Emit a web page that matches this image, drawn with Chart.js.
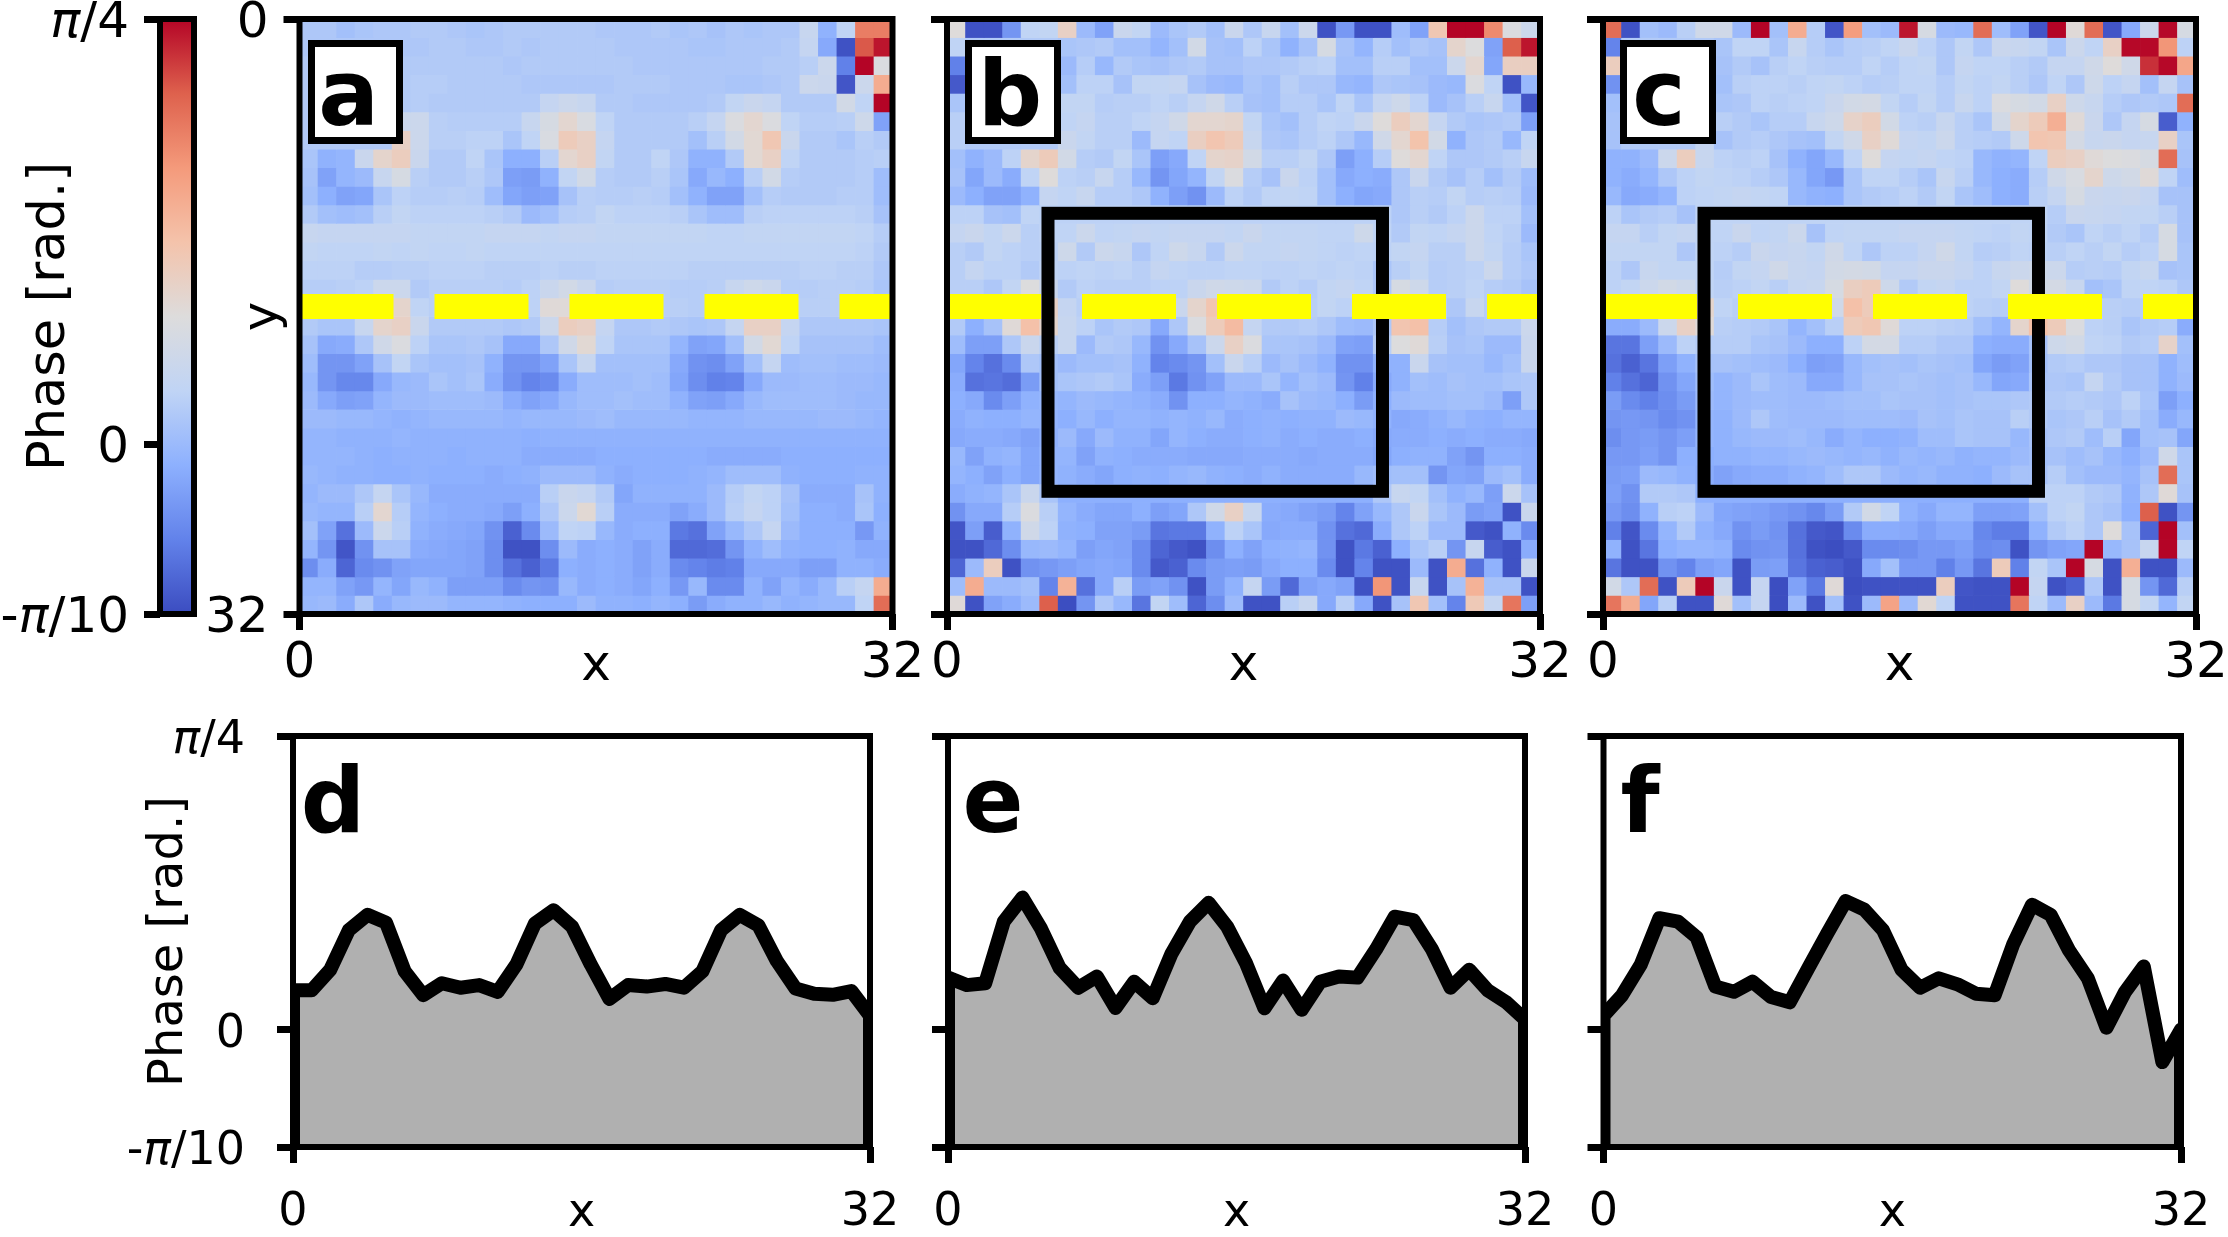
<!DOCTYPE html>
<html><head><meta charset="utf-8">
<style>html,body{margin:0;padding:0;background:#fff;width:2228px;height:1237px;overflow:hidden}
#stage{position:relative;width:2228px;height:1237px}canvas{position:absolute;left:0;top:0}</style>
<script src="https://cdn.jsdelivr.net/npm/chart.js@4/dist/chart.umd.js"></script>
</head><body><div id="stage"></div>
<script>
// Phase maps, hundredths of a radian, row by row
const heatA=[
[5,5,2,4,5,5,6,6,5,4,5,6,6,6,6,6,5,5,5,6,4,5,3,5,4,5,5,13,-3,10,58,58],
[5,5,5,5,5,5,5,6,6,5,5,6,5,6,6,6,6,5,5,5,5,4,4,5,5,5,6,12,-6,-30,66,76],
[6,6,6,6,6,6,6,6,6,6,6,5,6,6,6,6,6,6,5,5,5,5,5,5,5,6,6,8,15,-18,79,22],
[6,6,6,6,6,6,7,7,6,6,6,6,5,5,5,5,5,6,6,6,5,5,5,4,4,5,6,15,14,-29,15,45],
[6,6,6,6,6,6,7,6,6,6,6,6,6,12,15,13,6,6,5,5,5,5,6,11,14,12,6,6,6,18,10,79],
[6,6,6,6,6,15,15,8,7,7,7,7,13,20,27,21,10,6,6,6,6,8,12,22,27,22,10,7,7,8,16,-8],
[6,6,6,6,6,30,15,8,8,9,9,4,10,21,33,30,12,6,6,6,6,2,8,18,26,35,14,6,6,4,8,6],
[4,-3,-2,14,28,32,14,6,6,10,4,-4,-4,8,27,30,11,6,6,10,5,-3,-3,6,26,30,10,6,6,6,7,8],
[3,-8,-2,0,13,20,8,6,6,8,5,-9,-10,-3,11,18,7,6,6,8,4,-6,-1,-4,8,18,7,6,6,6,7,1],
[2,-4,-8,-7,4,9,7,7,8,7,1,-7,-9,-8,3,8,7,7,8,7,2,-3,-8,-8,2,7,6,6,6,7,7,1],
[6,2,1,2,8,11,9,9,9,9,8,6,0,2,7,8,11,9,9,9,8,4,1,1,8,9,9,9,9,9,8,3],
[13,12,12,12,12,12,11,11,11,11,12,12,12,11,12,12,11,11,11,11,11,11,10,10,11,11,11,11,11,11,10,7],
[11,10,10,10,11,10,11,10,10,11,10,10,10,10,10,10,10,10,10,10,10,10,10,10,10,10,10,10,10,10,9,6],
[9,9,9,7,7,8,8,9,9,9,8,8,8,9,8,8,9,9,9,9,9,8,8,8,8,8,8,9,9,8,8,5],
[7,7,8,9,15,15,6,8,8,8,8,7,9,14,18,14,7,8,8,8,7,7,8,13,16,14,7,7,8,8,7,4],
[7,7,7,10,20,28,10,8,8,8,8,8,9,25,25,16,9,8,8,8,8,7,7,18,22,22,9,8,8,8,7,4],
[6,4,4,13,28,30,14,6,6,6,6,5,6,15,32,30,12,5,5,6,5,4,5,12,30,30,12,5,5,5,5,4],
[3,-6,-5,5,17,22,9,4,4,5,3,-6,-6,5,17,26,10,4,4,4,-2,-8,-7,2,18,26,10,3,3,3,3,1],
[1,-12,-12,-8,3,11,4,2,2,3,-3,-12,-12,-8,4,13,2,2,2,2,-6,-13,-14,-8,2,12,1,2,2,1,1,0],
[-1,-12,-16,-16,-6,-1,0,4,2,4,-5,-13,-17,-15,-5,1,1,1,2,1,-7,-14,-18,-17,-6,0,0,1,1,0,0,-1],
[0,-6,-9,-8,-2,0,0,1,1,1,0,-5,-8,-6,-1,1,1,2,1,1,-3,-8,-9,-6,-1,1,1,1,1,0,-1,-1],
[0,0,-1,-1,-2,-3,-2,-1,-1,-1,-1,-2,-1,-1,-1,0,1,-1,-1,-1,-1,-2,-2,-2,-1,-1,-1,-1,0,0,-1,-2],
[-2,-2,-3,-3,-3,-2,-3,-3,-3,-3,-3,-3,-4,-3,-3,-3,-3,-3,-3,-3,-3,-3,-3,-3,-3,-3,-3,-3,-3,-3,-3,-3],
[-2,-2,-2,-3,-4,-3,-3,-3,-4,-3,-3,-3,-5,-5,-5,-5,-4,-4,-4,-4,-4,-4,-5,-5,-5,-5,-4,-4,-4,-4,-4,-4],
[-1,-2,-3,-3,-4,-4,-3,-4,-4,-4,-5,-4,-3,0,0,0,-3,-5,-4,-4,-4,-3,-2,1,1,1,-3,-4,-4,-4,-3,-3],
[-2,0,0,5,12,4,-1,-5,-5,-5,-5,-5,-5,8,14,12,6,-7,-3,-3,-3,-3,0,7,11,9,3,-5,-5,-5,3,-3],
[-1,-2,-2,8,27,7,-2,-4,-5,-5,-6,-9,-4,5,15,26,8,-5,-5,-5,-8,-5,0,8,12,9,2,-4,-4,-5,4,-4],
[2,-8,-22,0,15,8,-3,-5,-6,-7,-13,-26,-15,0,10,9,-1,-5,-4,-4,-20,-22,-8,-1,5,12,0,-4,-4,-4,-11,-3],
[-2,-12,-29,-13,3,3,-5,-6,-7,-8,-14,-30,-30,-14,0,-5,-4,-5,-8,-5,-24,-24,-23,-12,-3,1,-3,-4,-4,-3,-6,-6],
[-14,-5,-25,-15,-13,-8,-7,-7,-7,-8,-14,-22,-26,-20,-4,-5,-4,-5,-8,-5,-15,-17,-19,-18,-6,-6,-6,-9,-9,-3,-3,-5],
[-2,-2,-8,-11,-2,-7,-1,-3,-9,-9,-9,-15,-12,-13,-1,-5,-4,-5,-7,-4,-11,-1,-15,-15,-3,-8,-2,-5,-1,8,12,45],
[-1,0,-5,5,-5,-1,0,0,-2,-2,-2,-3,-4,-4,-4,0,-3,-3,-4,-2,-4,-10,-5,-3,-3,-1,-3,-2,-1,-1,10,62]
];
const heatB=[
[24,-30,-30,-12,10,11,30,0,-8,14,11,0,4,6,2,14,5,13,2,15,-30,-11,-30,-30,1,-8,35,79,79,55,22,15],
[10,6,6,6,6,6,4,5,6,2,2,-2,2,18,3,2,9,4,-3,3,20,3,-2,7,2,5,3,28,23,-8,65,76],
[-18,6,6,6,6,6,0,7,-1,6,4,3,5,6,3,3,5,5,6,8,9,2,2,8,8,2,2,15,27,-7,31,31],
[-28,6,6,6,6,6,2,9,9,3,11,11,12,3,0,-1,4,2,8,5,5,-1,-2,5,4,3,0,-1,22,10,-30,-1],
[4,6,6,6,6,6,11,11,7,8,8,10,8,12,17,8,3,2,7,7,4,10,4,12,16,9,0,3,8,13,2,-29],
[8,6,6,6,6,6,10,12,8,8,10,12,17,27,27,28,11,4,2,7,10,9,14,24,32,27,12,6,4,5,6,-9],
[8,6,6,6,6,6,14,11,8,8,0,12,10,31,36,33,13,5,4,7,9,5,-1,17,27,37,18,-3,5,6,-1,10],
[2,-3,0,9,28,33,18,7,6,11,4,-9,-6,10,28,29,18,8,8,11,5,-9,-4,7,24,27,10,5,5,6,8,13],
[3,-7,0,-5,10,24,9,8,13,7,-1,-12,-7,-2,11,22,7,3,14,9,2,-6,-4,-5,5,14,6,3,7,2,6,1],
[0,-4,-8,-8,-3,12,10,13,7,7,5,-3,-9,-13,0,9,6,10,11,10,2,-4,-7,-6,5,8,7,11,7,8,7,0],
[9,9,3,2,10,9,9,9,9,9,9,9,9,9,9,9,9,9,9,9,9,9,9,9,5,8,6,9,15,9,9,2],
[12,14,11,15,8,10,10,15,10,11,12,11,12,12,12,11,14,11,11,11,10,10,16,10,6,11,10,12,15,10,8,0],
[8,6,11,9,8,9,16,6,15,13,5,10,16,13,6,15,11,11,12,11,10,9,10,9,11,12,8,8,15,11,7,4],
[8,12,9,9,6,10,9,10,9,10,8,12,10,9,9,10,10,9,9,10,9,10,9,4,8,11,7,8,9,15,7,5],
[8,8,5,11,23,14,6,9,8,8,8,9,9,14,17,16,15,6,9,7,11,12,10,5,20,16,7,8,10,7,6,3],
[6,5,6,10,24,30,12,8,9,10,8,8,14,28,36,15,9,8,8,8,11,9,7,8,23,18,8,5,13,7,6,5],
[6,-4,3,25,38,28,13,9,4,6,5,-6,5,22,33,40,12,6,6,7,5,1,0,5,36,38,7,2,5,6,6,15],
[1,-9,-9,5,14,8,13,0,6,5,-1,-13,-6,3,15,30,22,4,4,3,0,-8,-9,8,23,25,8,3,4,0,0,14],
[-7,-17,-22,-15,5,2,0,2,2,3,-3,-17,-15,-12,2,14,8,0,3,0,-3,-13,-13,-3,-3,14,3,2,2,-1,2,14],
[-5,-22,-21,-23,-10,2,4,5,6,4,-5,-9,-20,-13,-8,0,0,4,-2,2,0,-12,-18,-6,-3,2,1,3,2,2,4,5],
[-4,-6,-15,-9,-3,-1,-2,0,-1,-2,-3,-5,-13,-4,-4,-2,-3,-5,3,0,-1,-4,-10,-4,0,1,1,2,2,0,-9,5],
[-5,-3,-4,-4,-2,-2,-4,-1,-4,-2,-2,-3,-2,-3,-1,-5,-4,-3,-4,-3,-3,0,-1,-3,-6,-5,-3,-1,-3,-4,-2,-2],
[-6,-5,-5,-6,-8,-3,0,-6,0,-3,-3,-7,-2,-4,-5,-5,-4,-3,-5,-4,-5,-5,-4,-6,-5,-5,-4,-5,-4,-5,-5,-6],
[-1,-8,-3,-2,-7,-2,-2,-8,-3,-4,-5,-5,-5,-6,-6,-6,-5,-5,-5,-6,-5,-5,-5,-7,-4,-3,-3,-8,-12,-4,-4,-5],
[-2,-4,-8,-4,-7,-2,-3,-5,-7,-4,-3,-4,-2,-1,-3,-4,-5,-3,-5,-5,-5,-5,-1,1,2,2,-12,-7,-8,0,2,-5],
[-5,-3,-2,4,14,4,-4,-4,-4,-4,-4,-4,-4,-4,-4,-4,-4,-4,-4,-4,-4,-4,-4,5,13,11,2,-3,-1,-9,15,3],
[-13,-6,-6,7,22,8,-2,-5,-7,-7,-4,-9,-7,5,17,30,13,-5,-6,-8,-10,-17,-8,-1,5,14,4,0,-10,-8,-30,14],
[-29,-9,-27,-3,17,9,-3,-4,-8,-8,-10,-21,-20,-20,-3,9,4,-6,-5,-5,-13,-22,-24,-5,5,9,0,0,-28,-30,-3,-15],
[-30,-30,-24,-14,-1,0,-2,-9,-7,-8,-15,-25,-28,-30,-14,-4,-8,-4,-3,-2,-13,-30,-20,-26,-4,4,8,-12,13,-27,-30,-5],
[-25,0,32,-30,-13,-11,-9,-7,-6,-7,-15,-28,-26,-15,-10,-9,-10,-6,-4,-4,-15,-30,-17,-30,-30,0,-30,45,-22,-3,-30,14],
[1,45,0,0,2,-17,43,-22,-6,8,-10,-8,-13,-30,-10,-3,12,-10,-24,-8,-6,-8,-30,52,-30,13,-30,3,43,3,3,-30],
[25,-30,-8,-5,0,65,-31,-12,5,-1,-21,11,1,-25,-14,0,-30,-30,8,13,-6,8,-6,-30,3,35,2,-17,34,12,60,-9]
];
const heatC=[
[62,-30,2,0,8,17,17,0,79,2,45,7,-29,50,2,0,76,20,0,-1,62,1,-8,-29,79,25,62,-29,-6,15,78,20],
[-17,6,6,6,6,6,4,10,10,4,13,7,4,7,8,10,14,9,5,11,5,14,13,11,4,15,10,30,78,78,52,9],
[32,6,6,6,6,6,3,6,3,8,10,8,7,7,10,7,10,11,5,12,10,10,8,6,12,12,17,24,17,72,78,47],
[-13,6,6,6,6,6,2,8,9,9,8,10,11,9,7,8,10,10,7,11,9,11,8,5,10,5,16,9,12,2,12,3],
[2,6,6,6,6,6,4,5,9,8,9,10,14,18,19,11,7,11,7,13,9,22,20,18,30,16,13,7,5,6,5,62],
[3,6,6,6,6,6,8,6,4,7,7,13,16,29,32,18,9,8,13,8,4,18,28,33,44,25,14,5,12,20,-27,-3],
[3,6,6,6,6,12,3,6,7,5,3,2,11,17,30,25,12,11,15,8,7,6,16,36,35,19,13,14,12,13,30,4],
[-3,-3,0,15,32,13,9,8,9,3,-3,-7,-1,10,24,12,11,12,10,9,-1,-3,-2,10,32,30,25,23,22,20,62,3],
[-3,-5,-2,5,9,11,10,9,7,5,-1,-7,-11,4,10,10,7,4,13,8,-1,-4,-5,7,17,21,28,16,18,25,10,1],
[-1,-6,-5,-2,9,10,11,12,11,10,-1,-3,-4,4,6,7,9,6,11,4,1,-4,-5,8,12,20,14,13,14,12,3,3],
[9,4,6,7,3,10,10,10,10,10,10,10,10,10,10,10,10,10,10,10,10,10,10,10,7,14,13,12,11,11,8,3],
[12,12,8,11,12,10,10,14,10,11,15,3,10,11,11,11,12,12,12,11,10,9,11,10,6,4,10,8,10,7,20,3],
[11,11,11,11,5,10,9,7,14,12,13,11,17,10,5,9,9,12,17,11,7,8,10,9,8,10,8,11,7,9,20,4],
[9,5,13,11,11,10,7,11,12,17,13,12,18,19,18,12,12,14,14,12,9,13,15,16,15,7,8,7,11,13,3,4],
[9,11,15,18,16,10,8,9,11,8,12,13,20,31,33,16,6,11,12,9,9,11,24,18,19,13,2,4,10,10,9,5],
[7,7,7,9,16,28,10,8,8,8,8,8,17,38,33,14,9,8,8,9,8,7,25,22,20,9,8,8,7,7,6,5],
[-5,-5,0,15,30,25,8,7,6,4,-2,2,8,33,35,25,9,9,8,7,2,-2,28,38,33,22,9,8,4,6,7,-5],
[-21,-21,-9,0,9,7,7,7,4,3,0,-4,-4,9,19,19,7,7,5,5,-4,-5,-5,3,16,18,10,9,6,7,29,2],
[-22,-26,-21,-9,-3,3,3,2,1,0,-4,-9,-8,-1,2,3,2,4,3,2,-7,-10,-8,2,6,7,5,5,3,3,-3,1],
[-18,-22,-25,-13,-7,1,-2,0,4,1,0,-6,-6,-1,3,3,4,3,2,3,-1,-7,-6,4,5,4,12,6,3,3,-3,0],
[-10,-15,-18,-14,-10,0,-2,0,1,1,0,0,1,2,2,4,3,3,2,3,4,4,5,6,6,7,6,5,9,4,-9,-4],
[-12,-11,-12,-15,-13,-2,-3,0,5,1,0,0,0,1,1,1,0,3,2,4,3,3,8,6,4,5,8,3,6,2,-5,-1],
[-14,-11,-10,-12,-9,-2,-3,-1,0,0,1,-1,-5,-2,-4,-4,-3,1,1,4,3,3,-1,3,5,6,1,8,-7,2,3,-7],
[-11,-11,-9,-12,-4,-4,-3,-3,-2,-2,-1,0,-1,-2,-1,-3,-1,-2,-1,-3,-2,-2,0,2,3,1,3,-1,-4,0,17,4],
[-10,-9,0,-1,-3,-5,-8,-6,-5,-5,-3,-2,1,5,5,0,-2,-1,-3,-3,-4,0,3,3,7,2,0,0,-2,3,62,4],
[-9,-13,6,6,5,-4,-4,-4,-4,-4,-4,-4,-4,-4,-4,-4,-4,-4,-4,-4,-4,-4,-4,9,9,9,6,5,-3,5,25,3],
[-11,-14,-3,8,9,0,-7,-8,-9,-11,-13,-16,-10,6,18,10,-3,-6,-2,-2,-9,-9,-8,2,9,11,5,3,-4,65,-30,-12],
[-18,-29,-15,-2,6,-3,-6,-13,-10,-13,-22,-28,-29,-15,-5,-5,-6,-9,-6,-6,-16,-19,-19,-3,6,9,5,24,3,-25,79,2],
[-3,-30,-21,-4,-2,-2,-3,-15,-13,-12,-22,-30,-31,-28,-15,-15,-14,-11,-11,-9,-15,-14,-30,-12,-8,-7,79,-1,3,13,79,10],
[-21,-30,-30,-13,-17,-9,-7,-30,-10,-9,-21,-26,-27,-30,-6,2,-11,-11,-18,-11,-21,33,-18,11,4,79,20,-30,44,-30,-30,0],
[18,5,62,-30,33,79,14,-30,12,-31,-8,-20,25,-31,-30,-30,-30,-30,32,-29,-30,-30,79,12,-30,-26,5,-30,20,-12,-24,8],
[60,45,-7,8,-30,-30,25,2,12,-31,0,-30,2,-30,0,48,0,26,10,-30,-30,-30,60,10,0,30,0,-20,20,11,-2,11]
];
// Line profiles (radians)
const lineD=[.105,.105,.160,.266,.307,.286,.156,.092,.124,.112,.119,.101,.174,.284,.319,.275,.174,.082,.119,.115,.122,.112,.156,.266,.307,.279,.183,.110,.096,.093,.103,.037];
const lineE=[.139,.119,.124,.289,.353,.270,.165,.112,.142,.058,.128,.084,.202,.289,.339,.275,.179,.057,.131,.053,.128,.142,.139,.215,.302,.293,.215,.112,.160,.105,.073,.027];
const lineF=[.037,.092,.174,.298,.289,.247,.115,.101,.128,.087,.073,.165,.256,.344,.321,.266,.160,.112,.137,.121,.096,.092,.229,.334,.307,.211,.137,.005,.101,.169,-.087,0];
const phaseMin=-Math.PI/10, phaseMax=Math.PI/4;
const phaseTicks=[-Math.PI/10,0,Math.PI/4];
const phaseTickLabels=['-π/10','0','π/4'];
const mapTicks=[0,32];
const mapTickLabels=['0','32'];
const lineTicks=[0,31];
const cutRow=15.46;
const boxCols=[5.45,23.5];
const boxRows=[10.45,25.4];
const coolwarm=[[59,76,192],[98,130,234],[141,176,254],[192,212,245],[221,220,220],[244,195,171],[244,154,123],[222,97,77],[180,4,38]];

Chart.defaults.font.family='"DejaVu Sans"';
Chart.defaults.color='#000';
Chart.defaults.animation=false;
const stage=document.getElementById('stage');
const W=2228,H=1237;
function mount(){const c=document.createElement('canvas');c.width=W;c.height=H;c.style.width=W+'px';c.style.height=H+'px';stage.appendChild(c);return c.getContext('2d');}
function colorAt(t){t=Math.max(0,Math.min(1,t))*(coolwarm.length-1);const i=Math.min(coolwarm.length-2,Math.floor(t)),f=t-i;const a=coolwarm[i],b=coolwarm[i+1];return `rgb(${a.map((v,k)=>Math.round(v+(b[k]-v)*f)).join(',')})`;}
const colorOf=v=>colorAt((v/100-phaseMin)/(phaseMax-phaseMin));
function noMargins(s){s.paddingTop=s.paddingBottom=s.paddingLeft=s.paddingRight=0;}
function spines(lw){return {id:'spines',afterDatasetsDraw(ch){const a=ch.chartArea,c=ch.ctx;c.save();c.strokeStyle='#000';c.lineWidth=lw;c.lineJoin='miter';c.strokeRect(a.left,a.top,a.right-a.left,a.bottom-a.top);c.restore();}};}
function mathLabels(rightX,size,values,labels){return {id:'mathLabels',afterDraw(ch){const c=ch.ctx,y=ch.scales.y;c.save();c.fillStyle='#000';c.textBaseline='middle';c.textAlign='left';
 values.forEach((v,i)=>{const parts=labels[i].split(/(π)/).filter(Boolean);const font=p=>`${p==='π'?'italic ':''}${size}px "DejaVu Sans"`;
  let w=0;parts.forEach(p=>{c.font=font(p);w+=c.measureText(p).width;});let x=rightX-w;const py=y.getPixelForValue(v)+5;
  parts.forEach(p=>{c.font=font(p);c.fillText(p,x,py);x+=c.measureText(p).width;});});c.restore();}};}
function axisLayer(opts){return Object.assign({type:'linear',border:{display:false},grid:{offset:false,drawOnChartArea:false,drawTicks:true,tickLength:16,tickWidth:7,tickColor:'#000',color:'#000'}},opts);}
function letter(txt,cx,base,box){return {id:'letter'+txt,afterDatasetsDraw(ch){const c=ch.ctx;c.save();
 if(box){c.fillStyle='#fff';c.strokeStyle='#000';c.lineWidth=7;c.fillRect(box[0],box[1],box[2],box[3]);c.strokeRect(box[0]+3.5,box[1]+3.5,box[2]-7,box[3]-7);}
 c.fillStyle='#000';c.font='bold 90px "DejaVu Sans"';c.textAlign='center';c.textBaseline='alphabetic';c.fillText(txt,cx,base);c.restore();}};}
function overlays(showBox){return {id:'overlays',afterDatasetsDraw(ch){const c=ch.ctx,x=ch.scales.x,y=ch.scales.y,a=ch.chartArea;c.save();
 if(showBox){const l=x.getPixelForValue(boxCols[0]),r=x.getPixelForValue(boxCols[1]),t=y.getPixelForValue(boxRows[0]),b=y.getPixelForValue(boxRows[1]);c.strokeStyle='#000';c.lineWidth=13;c.strokeRect(l,t,r-l,b-t);}
 c.beginPath();c.rect(a.left,a.top,a.right-a.left,a.bottom-a.top);c.clip();
 const py=y.getPixelForValue(cutRow);c.strokeStyle='#ffff00';c.lineWidth=25;c.setLineDash([94,41]);c.beginPath();c.moveTo(a.left,py);c.lineTo(a.right,py);c.stroke();c.restore();}};}

function heatPanel(grid,left,opts){
 const right=left+593,top=19,bottom=614,xH=78,yW=100;
 const datasets=grid.map((row,r)=>({data:row.map((v,c)=>({x:c+.5,y:[r,r+1]})),backgroundColor:row.map(colorOf),borderWidth:0,grouped:false,barPercentage:1,categoryPercentage:1}));
 new Chart(mount(),{type:'bar',data:{datasets},plugins:[overlays(opts.box),spines(6),letter(opts.letter,opts.lx,125,opts.lbox)],options:{responsive:false,devicePixelRatio:1,events:[],
  layout:{padding:{left:left-yW,right:W-right,top:top,bottom:H-bottom-xH}},
  plugins:{legend:{display:false},tooltip:{enabled:false}},
  scales:{
   x:axisLayer({min:0,max:32,position:'bottom',offset:false,afterBuildTicks(s){s.ticks=mapTicks.map(value=>({value}));},afterFit(s){s.height=xH;noMargins(s);},
     ticks:{autoSkip:false,maxRotation:0,font:{size:50,lineHeight:1},padding:9,callback:(v,i)=>mapTickLabels[i]},title:{display:true,text:'x',font:{size:50,lineHeight:1},padding:0}}),
   y:axisLayer({min:0,max:32,reverse:true,afterBuildTicks(s){s.ticks=mapTicks.map(value=>({value}));},afterFit(s){s.width=yW;noMargins(s);},
     ticks:{display:!!opts.yLabels,autoSkip:false,font:{size:50,lineHeight:1},padding:15,labelOffset:5,callback:(v,i)=>mapTickLabels[i]},
     title:{display:!!opts.yLabels,text:'y',font:{size:50,lineHeight:1},padding:{top:39.5,bottom:0}}})
  }}});
}
function linePanel(values,left,right,opts){
 const top=736,bottom=1147,xH=90,yW=147;
 const outline=[{x:0,y:phaseMin},...values.map((v,i)=>({x:i,y:v})),{x:31,y:phaseMin}];
 const base=[{x:0,y:phaseMin},{x:31,y:phaseMin}];
 const extra=opts.labels?[mathLabels(245,46,phaseTicks,phaseTickLabels)]:[];
 new Chart(mount(),{type:'scatter',data:{datasets:[
   {data:outline,showLine:true,pointRadius:0,tension:0,borderColor:'#000',borderWidth:14,borderJoinStyle:'round',backgroundColor:'#b0b0b0',fill:'start',clip:0},
   {data:base,showLine:true,pointRadius:0,borderColor:'#000',borderWidth:14,fill:false,clip:0}]},
  plugins:[spines(6),letter(opts.letter,opts.lx,832),...extra],options:{responsive:false,devicePixelRatio:1,events:[],
  layout:{padding:{left:left-yW,right:W-right,top:top,bottom:H-bottom-xH}},
  plugins:{legend:{display:false},tooltip:{enabled:false}},
  scales:{
   x:axisLayer({min:0,max:31,position:'bottom',afterBuildTicks(s){s.ticks=lineTicks.map(value=>({value}));},afterFit(s){s.height=xH;noMargins(s);},
     ticks:{autoSkip:false,maxRotation:0,font:{size:46,lineHeight:1},padding:27,callback:(v,i)=>mapTickLabels[i]},title:{display:true,text:'x',font:{size:46,lineHeight:1},padding:0}}),
   y:axisLayer({min:phaseMin,max:phaseMax,afterBuildTicks(s){s.ticks=phaseTicks.map(value=>({value}));},afterFit(s){s.width=yW;noMargins(s);},
     ticks:{display:false},title:{display:!!opts.labels,text:'Phase [rad.]',font:{size:48,lineHeight:1},padding:{top:0,bottom:0}}})
  }}});
}
// colour bar
new Chart(mount(),{type:'bar',data:{labels:['phase'],datasets:[{data:[[phaseMin,phaseMax]],barPercentage:1,categoryPercentage:1,borderWidth:0,
  backgroundColor(ctx){const a=ctx.chart.chartArea;if(!a)return '#888';const g=ctx.chart.ctx.createLinearGradient(0,a.bottom,0,a.top);coolwarm.forEach((c,i)=>g.addColorStop(i/(coolwarm.length-1),`rgb(${c.join(',')})`));return g;}}]},
 plugins:[spines(6),mathLabels(129,50,phaseTicks,phaseTickLabels)],
 options:{responsive:false,devicePixelRatio:1,events:[],layout:{padding:{left:25,right:W-194,top:19,bottom:H-614}},plugins:{legend:{display:false},tooltip:{enabled:false}},
  scales:{x:{display:false},y:axisLayer({min:phaseMin,max:phaseMax,afterBuildTicks(s){s.ticks=phaseTicks.map(value=>({value}));},afterFit(s){s.width=135;noMargins(s);},ticks:{display:false},title:{display:true,text:'Phase [rad.]',font:{size:51,lineHeight:1},padding:0}})}}});
heatPanel(heatA,299.5,{letter:'a',lx:348.5,lbox:[308,40,95,104],yLabels:true});
heatPanel(heatB,947,{letter:'b',lx:1010,lbox:[965,40,96,104],box:true});
heatPanel(heatC,1603,{letter:'c',lx:1659,lbox:[1620,40,96,104],box:true});
linePanel(lineD,293,870,{letter:'d',lx:333,labels:true});
linePanel(lineE,948,1525,{letter:'e',lx:993});
linePanel(lineF,1603.5,2181,{letter:'f',lx:1640});
</script></body></html>
